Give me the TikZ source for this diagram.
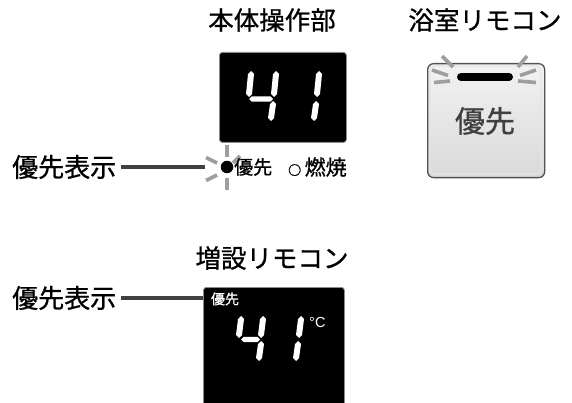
\documentclass[tikz,border=0pt]{standalone}
\usepackage{fontspec}
\newfontfamily\jp{Noto Sans CJK JP}[FakeBold=0.9]
\newfontfamily\lat{Liberation Sans}
\newcommand\vsg[4]{\fill[white] (#1,#2) -- ({#1+3},{#2+3}) -- ({#3+3},{#4-3}) -- (#3,#4) -- ({#3-3},{#4-3}) -- ({#1-3},{#2+3}) -- cycle;}
\newcommand\hsg[3]{\fill[white] (#1,#3) -- ({#1+2.7},{#3-2.7}) -- ({#2-2.7},{#3-2.7}) -- (#2,#3) -- ({#2-2.7},{#3+2.7}) -- ({#1+2.7},{#3+2.7}) -- cycle;}
\tikzset{
  title/.style={font=\jp\fontsize{25.5}{25.5}\selectfont, inner sep=0pt},
  lbl/.style={font=\jp\fontsize{26}{26}\selectfont, inner sep=0pt, anchor=west},
  leader/.style={line width=3.2pt, draw=black!75},
  ray/.style={line width=3.6pt, draw=black!38},
  disp/.style={fill=black, draw=black!45, line width=0.8pt, rounded corners=3pt},
}
\begin{document}
\begin{tikzpicture}[x=1pt,y=-1pt]
\clip (0,0) rectangle (572,403);
\fill[white] (0,0) rectangle (572,403);
% titles
\node[title] (t1) at (272,20) {本体操作部};
\node[title] (t2) at (485,20) {浴室リモコン};
\node[title] (t3) at (272,258) {増設リモコン};
% top display
\node[disp, minimum width=127pt, minimum height=90pt, anchor=north west] (d1) at (219,52) {};
\vsg{251}{71}{249}{97}
\hsg{249}{273}{99}
\vsg{276}{71}{274}{97}
\vsg{273}{101}{271}{121}
\vsg{319}{71}{317}{97}
\vsg{316}{101}{314}{121}
% indicator
\draw[ray] (227,145) -- (227,157);
\draw[ray] (227,178) -- (227,190);
\draw[ray] (206,157.5) -- (217,163);
\draw[ray] (206,180.5) -- (217,175);
\draw[ray] (233,163) -- (240,156);
\node[circle, fill=black, minimum size=12.5pt, inner sep=0pt] (dot) at (227,167) {};
\node[font=\jp\fontsize{19}{19}\selectfont, inner sep=0pt, anchor=west] (yu1) at (234,167) {優先};
\node[font=\jp\fontsize{21}{21}\selectfont, inner sep=0pt, anchor=west] (nen) at (288,167) {{\fontsize{13}{13}\selectfont ○}\,燃焼};
\node[lbl] (l1) at (12,167) {優先表示};
\coordinate (l1e) at (205,167);
\draw[leader, shorten <=5pt] (l1.east) -- (l1e);
% bath remote
\node[draw=black!68, line width=1.3pt, rounded corners=6pt, top color=black!5, bottom color=black!15, minimum width=117pt, minimum height=114pt, anchor=north west] (rm) at (427,63) {};
\draw[white!90!black, line width=1.2pt, rounded corners=5pt] (430,66) rectangle (541,174);
\draw[line width=8pt, line cap=round] (461,77) -- (509,77);
\draw[ray] (442,56) -- (453,67);
\draw[ray] (432,70) -- (448,75.5);
\draw[ray] (434,82.5) -- (450,81);
\draw[ray] (518,67) -- (527,56);
\draw[ray] (520,75.5) -- (536,70);
\draw[ray] (518,81) -- (536,82.5);
\node[font=\jp\fontsize{30}{30}\selectfont, text=black!75, inner sep=0pt] (yu2) at (485,121) {優先};
% bottom display
\node[disp, minimum width=141pt, minimum height=140pt, anchor=north west] (d2) at (203,287) {};
\node[font=\jp\fontsize{14}{14}\selectfont, text=white, inner sep=0pt] (yu3) at (225,299) {優先};
\vsg{241}{316}{239}{338}
\hsg{241}{260}{339.5}
\vsg{263}{316}{261}{338}
\vsg{261}{341}{259}{361}
\vsg{301}{316}{299}{338}
\vsg{298}{341}{296}{361}
\node[font=\lat\fontsize{14.5}{14.5}\selectfont, text=white, inner sep=0pt, anchor=base west] (deg) at (309,327.5) {°C};
\node[lbl] (l2) at (12,298) {優先表示};
\draw[leader, shorten <=5pt] (l2.east) -- (l2.east -| d2.west);
\end{tikzpicture}
\end{document}
